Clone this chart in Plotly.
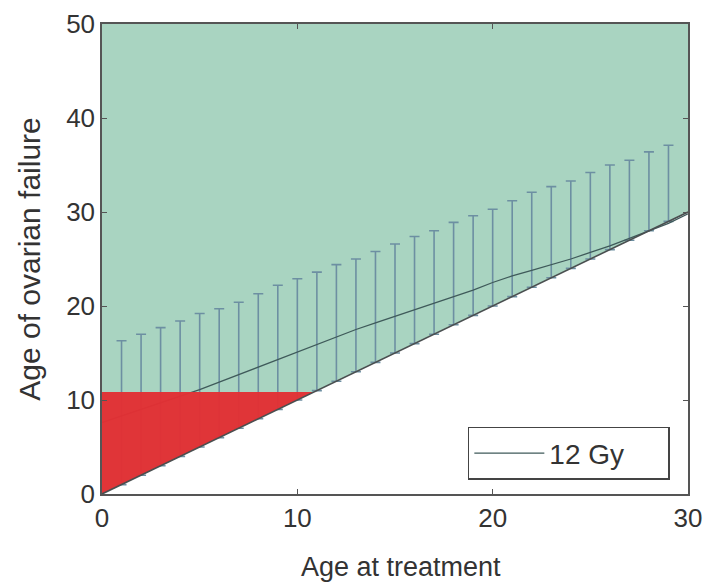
import plotly.graph_objects as go

# Age at treatment (years)
ages = list(range(0, 31))
# Predicted age of ovarian failure, 12 Gy (central line)
mid_12gy = [7.6, 8.3, 9.0, 9.7, 10.4, 11.1, 11.9, 12.7, 13.5, 14.3, 15.1,
            15.9, 16.7, 17.5, 18.2, 18.9, 19.6, 20.3, 21.0, 21.7, 22.5,
            23.2, 23.8, 24.4, 25.0, 25.7, 26.4, 27.2, 28.0, 28.8, 29.8]
# Error bar ages and their upper limits
bar_ages = list(range(1, 30))
bar_upper = [16.3, 17.0, 17.7, 18.4, 19.2, 19.7, 20.4, 21.3, 22.2, 22.9,
             23.6, 24.4, 25.0, 25.8, 26.6, 27.4, 28.0, 28.9, 29.6, 30.3,
             31.2, 32.1, 32.7, 33.3, 34.2, 35.0, 35.5, 36.4, 37.1]
# lower limit of each bar: the age at treatment itself
bar_lower = bar_ages
# Age threshold of the red region
red_limit = 10.85
y_max = 50

mid_at_bars = [mid_12gy[ages.index(a)] for a in bar_ages]

FAMILY = '"Liberation Sans", Arial, Helvetica, sans-serif'
TXT = "#333333"

fig = go.Figure()

# Green region above the diagonal (age of failure >= age at treatment)
fig.add_trace(go.Scatter(
    x=ages + [ages[-1], ages[0]],
    y=ages + [y_max, y_max],
    fill="toself", fillcolor="#a9d4c1", mode="none",
    hoverinfo="skip", showlegend=False))

# Error bars
fig.add_trace(go.Scatter(
    x=bar_ages, y=mid_at_bars, mode="markers",
    marker=dict(size=0.1, color="rgba(0,0,0,0)"),
    error_y=dict(type="data", symmetric=False,
                 array=[u - m for u, m in zip(bar_upper, mid_at_bars)],
                 arrayminus=[m - l for m, l in zip(mid_at_bars, bar_lower)],
                 color="#6d8fa2", thickness=1.6, width=5),
    hoverinfo="skip", showlegend=False))

# Central line
fig.add_trace(go.Scatter(
    x=ages, y=mid_12gy, mode="lines", name="12 Gy",
    line=dict(color="#3f5a5a", width=1.3)))

# Red region
fig.add_trace(go.Scatter(
    x=[0, red_limit, 0], y=[0, red_limit, red_limit],
    fill="toself", fillcolor="rgba(226,48,52,0.97)", mode="none",
    hoverinfo="skip", showlegend=False))

# Diagonal
fig.add_trace(go.Scatter(
    x=[ages[0], ages[-1]], y=[ages[0], ages[-1]], mode="lines",
    line=dict(color="#4a4f50", width=1.6),
    hoverinfo="skip", showlegend=False))

fig.update_layout(
    width=718, height=586,
    margin=dict(l=94, r=38, t=16, b=100),
    paper_bgcolor="white", plot_bgcolor="white",
    font=dict(family=FAMILY, size=26, color=TXT),
    showlegend=True,
    legend=dict(x=0.969, y=0.03, xanchor="right", yanchor="bottom",
                orientation="h",
                bgcolor="white", bordercolor="#444444", borderwidth=1.5,
                itemwidth=70, entrywidth=114, entrywidthmode="pixels",
                font=dict(family=FAMILY, size=28, color=TXT)),
    xaxis=dict(range=[0, 30], tickvals=[0, 10, 20, 30],
               showline=True, linecolor="#555555", linewidth=1.5, mirror="ticks",
               ticks="inside", ticklen=5, tickcolor="#555555",
               showgrid=False, zeroline=False, automargin=False),
    yaxis=dict(range=[0, 50], tickvals=[0, 10, 20, 30, 40, 50],
               showline=True, linecolor="#555555", linewidth=1.5, mirror="ticks",
               ticks="inside", ticklen=5, tickcolor="#555555",
               showgrid=False, zeroline=False, automargin=False),
    annotations=[
        dict(text="Age at treatment", xref="paper", yref="paper",
             x=0.51, y=-0.155, xanchor="center", yanchor="middle",
             showarrow=False, font=dict(family=FAMILY, size=27, color=TXT)),
        dict(text="Age of ovarian failure", xref="paper", yref="paper",
             x=-0.125, y=0.5, xanchor="center", yanchor="middle", textangle=-90,
             showarrow=False, font=dict(family=FAMILY, size=30, color=TXT)),
    ],
)

fig.write_html("out.html")
